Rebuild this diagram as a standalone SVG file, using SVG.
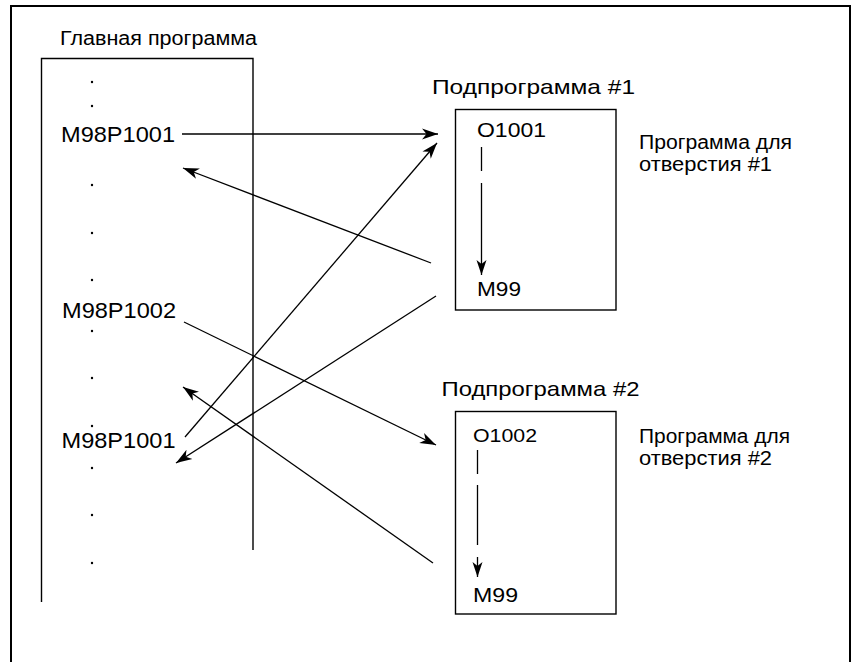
<svg xmlns="http://www.w3.org/2000/svg" width="852" height="662" viewBox="0 0 852 662">
  <defs>
    <style>
      text { font-family: "Liberation Sans", Arial, sans-serif; fill: #000; }
      .title { font-size: 19.5px; }
      .sub { font-size: 21px; }
      .code { font-size: 22px; }
      .note { font-size: 20px; }
      .frame { fill: none; stroke: #000; stroke-width: 2; }
      .box { fill: none; stroke: #000; stroke-width: 1.4; }
      .conn { fill: none; stroke: #000; stroke-width: 1.3; marker-end: url(#arr); }
      .flow { fill: none; stroke: #000; stroke-width: 1.3; marker-end: url(#arrS); }
      .dot { fill: #000; }
    </style>
    <marker id="arr" markerUnits="userSpaceOnUse" markerWidth="18" markerHeight="12" refX="16" refY="6" orient="auto">
      <path d="M0,0.5 L16,6 L0,11.5 L4.5,6 Z" fill="#000"/>
    </marker>
    <marker id="arrS" markerUnits="userSpaceOnUse" markerWidth="16" markerHeight="11" refX="15" refY="5.5" orient="auto">
      <path d="M0,0.5 L15,5.5 L0,10.5 L4,5.5 Z" fill="#000"/>
    </marker>
  </defs>

  <rect class="frame" x="11" y="6" width="839" height="660"/>

  <g id="main-program">
    <text class="title" x="60" y="45" textLength="197" lengthAdjust="spacingAndGlyphs">Главная программа</text>
    <path class="box" d="M41.5,602 V58.5 H253 V550"/>
    <circle class="dot" cx="92" cy="82" r="1.2"/>
    <circle class="dot" cx="92" cy="106" r="1.2"/>
    <text class="code" x="61" y="142" textLength="114" lengthAdjust="spacingAndGlyphs">M98P1001</text>
    <circle class="dot" cx="92" cy="185" r="1.2"/>
    <circle class="dot" cx="92" cy="233" r="1.2"/>
    <circle class="dot" cx="92" cy="280" r="1.2"/>
    <text class="code" x="62" y="318" textLength="114" lengthAdjust="spacingAndGlyphs">M98P1002</text>
    <circle class="dot" cx="92" cy="331" r="1.2"/>
    <circle class="dot" cx="92" cy="378" r="1.2"/>
    <circle class="dot" cx="92" cy="426" r="1.2"/>
    <text class="code" x="61.5" y="448" textLength="114" lengthAdjust="spacingAndGlyphs">M98P1001</text>
    <circle class="dot" cx="92" cy="468" r="1.2"/>
    <circle class="dot" cx="92" cy="515" r="1.2"/>
    <circle class="dot" cx="92" cy="563" r="1.2"/>
  </g>

  <g id="subprogram-1">
    <text class="sub" x="432" y="94" textLength="203" lengthAdjust="spacingAndGlyphs">Подпрограмма #1</text>
    <rect class="box" x="455.5" y="109.5" width="160.5" height="200.5"/>
    <text class="code" x="477" y="137" style="font-size:21px" textLength="69" lengthAdjust="spacingAndGlyphs">O1001</text>
    <path class="flow" d="M481.5,147 V171 M481.5,183 V275" />
    <text class="code" x="477" y="296" style="font-size:20.5px" textLength="44" lengthAdjust="spacingAndGlyphs">M99</text>
    <text class="note" x="639" y="149" textLength="153" lengthAdjust="spacingAndGlyphs">Программа для</text>
    <text class="note" x="639" y="171" textLength="133" lengthAdjust="spacingAndGlyphs">отверстия #1</text>
  </g>

  <g id="subprogram-2">
    <text class="sub" x="441.5" y="396" textLength="198" lengthAdjust="spacingAndGlyphs">Подпрограмма #2</text>
    <rect class="box" x="455.5" y="411.5" width="160.5" height="202.5"/>
    <text class="code" x="473" y="442" style="font-size:19px" textLength="64" lengthAdjust="spacingAndGlyphs">O1002</text>
    <path class="flow" d="M477.5,450 V474 M477.5,485 V545 M477.5,557 V577" />
    <text class="code" x="473" y="602" style="font-size:21px" textLength="45" lengthAdjust="spacingAndGlyphs">M99</text>
    <text class="note" x="639" y="443" textLength="151" lengthAdjust="spacingAndGlyphs">Программа для</text>
    <text class="note" x="639" y="465" textLength="133" lengthAdjust="spacingAndGlyphs">отверстия #2</text>
  </g>

  <g id="connectors">
    <line class="conn" x1="182" y1="134" x2="438" y2="134"/>
    <line class="conn" x1="431" y1="263" x2="183" y2="168"/>
    <line class="conn" x1="185" y1="437" x2="437" y2="143"/>
    <line class="conn" x1="436" y1="296" x2="176" y2="463"/>
    <line class="conn" x1="184" y1="322" x2="436" y2="445"/>
    <line class="conn" x1="433" y1="563" x2="183" y2="387"/>
  </g>
</svg>
